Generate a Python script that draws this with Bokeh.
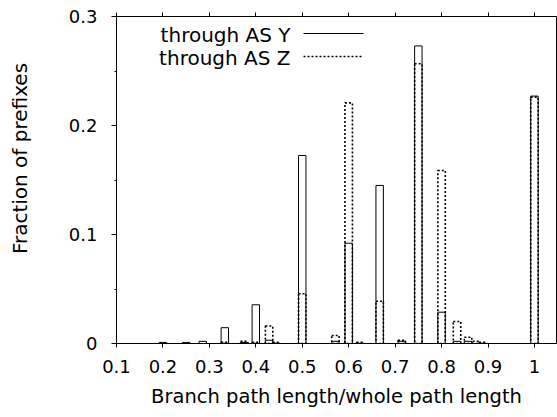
from bokeh.plotting import figure
from bokeh.layouts import row
from bokeh.models import (Range1d, FixedTicker, LinearAxis, CustomJSTickFormatter,
                          Label, Arrow, ColumnDataSource)
from bokeh.embed import file_html
from bokeh.resources import INLINE

# ---- data -------------------------------------------------------------
series_names = ["through AS Y", "through AS Z"]

x_as_y = [0.2, 0.25, 0.2857, 0.3333, 0.375, 0.4, 0.4286, 0.5, 0.5714, 0.6,
          0.6667, 0.7143, 0.75, 0.8, 0.8333, 0.8571, 1.0]
frac_as_y = [0.001, 0.001, 0.002, 0.0145, 0.001, 0.0355, 0.003, 0.1725, 0.002,
             0.092, 0.145, 0.002, 0.273, 0.0287, 0.002, 0.002, 0.227]

x_as_z = [0.3333, 0.375, 0.4, 0.4286, 0.4444, 0.5, 0.5714, 0.6, 0.625, 0.6667,
          0.7143, 0.75, 0.8, 0.8333, 0.8571, 0.875, 0.8889, 1.0]
frac_as_z = [0.001, 0.002, 0.001, 0.016, 0.001, 0.0456, 0.0073, 0.2208, 0.001,
             0.0388, 0.003, 0.2566, 0.1587, 0.0202, 0.0058, 0.002, 0.001, 0.226]

x_ticks = [0.1, 0.2, 0.3, 0.4, 0.5, 0.6, 0.7, 0.8, 0.9, 1.0]
y_ticks = [0.0, 0.1, 0.2, 0.3]
y_minor_ticks = [0.05, 0.15, 0.25]

x_label = "Branch path length/whole path length"
y_label = "Fraction of prefixes"

# ---- style ------------------------------------------------------------
FONT = "DejaVu Sans"
BAR_W = 0.016
LEFT_W = 40
TOTAL_W, TOTAL_H = 557, 417

# narrow strip holding the y-axis title (gnuplot puts it above centre);
# its frame is aligned with the main plot's frame by the row layout
lab = figure(width=LEFT_W, height=TOTAL_H, output_backend="svg",
             toolbar_location=None, min_border=0,
             x_range=Range1d(0, 1), y_range=Range1d(0, 1))
lab.axis.visible = False
lab.grid.visible = False
lab.outline_line_color = None
lab.add_layout(Label(x=19.5, y=185, x_units="screen", y_units="screen",
                     text=y_label, angle=90, angle_units="deg",
                     text_align="center", text_baseline="middle",
                     text_font=FONT, text_font_size="20px", text_color="black"))

p = figure(width=TOTAL_W - LEFT_W, height=TOTAL_H, output_backend="svg",
           toolbar_location=None,
           x_range=Range1d(0.1, 1.0475), y_range=Range1d(0.0, 0.3),
           min_border_left=76, min_border_right=1, min_border_top=16,
           min_border_bottom=74)
p.grid.visible = False
p.outline_line_color = "black"
p.outline_line_alpha = 1.0
p.outline_line_width = 1
p.background_fill_color = "white"
p.border_fill_color = "white"

fmt = CustomJSTickFormatter(code="var s = tick.toFixed(1); return s.endsWith('.0') ? s.slice(0, -2) : s;")

xa = p.xaxis[0]
xa.ticker = FixedTicker(ticks=x_ticks)
xa.formatter = fmt
xa.axis_label = x_label
xa.axis_label_text_font = FONT
xa.axis_label_text_font_size = "19.5px"
xa.axis_label_text_font_style = "normal"
xa.axis_label_standoff = 9
xa.major_label_text_font = FONT
xa.major_label_text_font_size = "18px"
xa.major_label_standoff = 12
xa.major_tick_out = 4
xa.major_tick_in = 0
xa.minor_tick_out = 0
xa.minor_tick_in = 0

ya = p.yaxis[0]
ya.ticker = FixedTicker(ticks=y_ticks, minor_ticks=y_minor_ticks)
ya.formatter = fmt
ya.major_label_text_font = FONT
ya.major_label_text_font_size = "18px"
ya.major_label_standoff = 14
ya.major_tick_out = 5
ya.major_tick_in = 0
ya.minor_tick_out = 2
ya.minor_tick_in = 0

for ax in (xa, ya):
    ax.axis_line_color = "black"
    ax.major_tick_line_color = "black"
    ax.minor_tick_line_color = "black"
    ax.major_label_text_color = "black"
    ax.axis_label_text_color = "black"

top = LinearAxis(ticker=FixedTicker(ticks=x_ticks),
                 formatter=CustomJSTickFormatter(code="return '';"),
                 major_label_text_font_size="0px", major_label_standoff=0,
                 major_tick_out=4, major_tick_in=0, minor_tick_out=0,
                 minor_tick_in=0, axis_line_color="black",
                 major_tick_line_color="black")
p.add_layout(top, "above")

# ---- bars -------------------------------------------------------------
src_y = ColumnDataSource(dict(x=x_as_y, top=frac_as_y))
src_z = ColumnDataSource(dict(x=x_as_z, top=frac_as_z))

p.vbar(x="x", top="top", bottom=0, width=BAR_W, source=src_y,
       fill_color=None, line_color="black", line_width=1)
p.vbar(x="x", top="top", bottom=0, width=BAR_W, source=src_z,
       fill_color=None, line_color="black", line_width=1.6, line_dash="2 2")

# ---- gnuplot-style key (text, then sample) -----------------------------
key_rows = [(309, None, 1), (286, "2 2", 1.6)]
for name, (ky, dash, lw) in zip(series_names, key_rows):
    p.add_layout(Label(x=174, y=ky, x_units="screen", y_units="screen",
                       text=name, text_align="right", text_baseline="middle",
                       text_font=FONT, text_font_size="20px", text_color="black"))
    kw = dict(line_dash=dash) if dash else {}
    p.add_layout(Arrow(end=None, start=None, x_start=187, y_start=ky + 1,
                       x_end=247, y_end=ky + 1, start_units="screen",
                       end_units="screen", line_color="black", line_width=lw, **kw))

open("out.html", "w").write(file_html(row(lab, p), INLINE))
